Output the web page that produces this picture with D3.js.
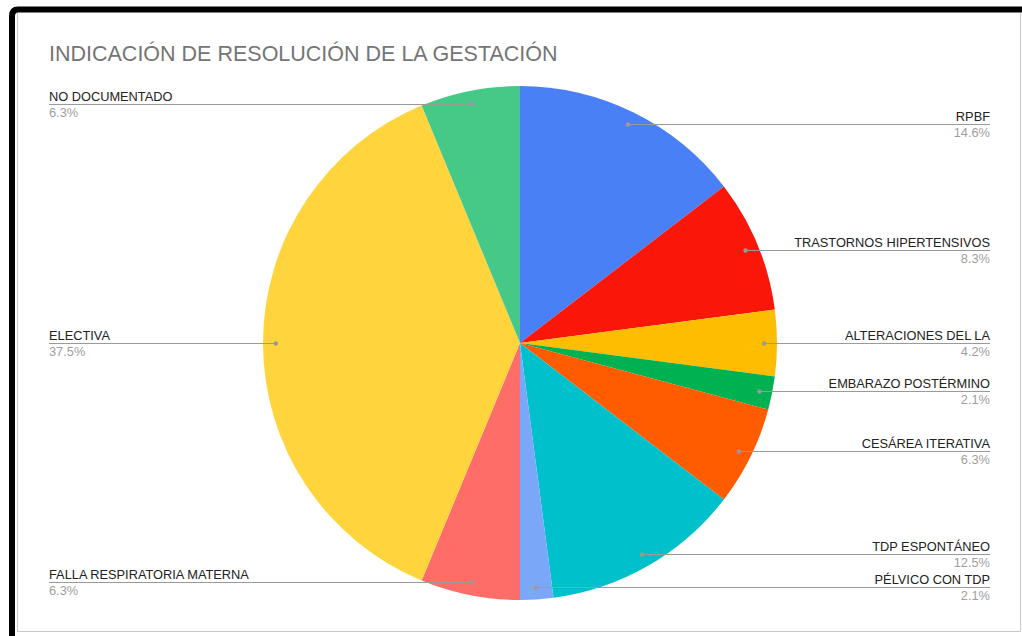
<!DOCTYPE html>
<html>
<head>
<meta charset="utf-8">
<script src="https://cdn.jsdelivr.net/npm/d3@7"></script>
<style>
  body { margin: 0; background: #fff; }
  svg { display: block; font-family: "Liberation Sans", Arial, sans-serif; }
</style>
</head>
<body>
<div id="chart"></div>
<script>
// data (counts out of 48)
var categories = ["RPBF", "TRASTORNOS HIPERTENSIVOS", "ALTERACIONES DEL LA", "EMBARAZO POSTÉRMINO",
                  "CESÁREA ITERATIVA", "TDP ESPONTÁNEO", "PÉLVICO CON TDP", "FALLA RESPIRATORIA MATERNA",
                  "ELECTIVA", "NO DOCUMENTADO"];
var counts = [7, 4, 2, 1, 3, 6, 1, 3, 18, 3];
var colors = ["#4a80f5", "#fa1609", "#ffbd00", "#00b152", "#ff5c00",
              "#00c1cb", "#7ba7f8", "#ff6d69", "#ffd43d", "#46c987"];

var width = 1022, height = 636;
var cx = 520, cy = 343, radius = 257;

var svg = d3.select("#chart").append("svg")
    .attr("width", width).attr("height", height);

// frame
svg.append("rect").attr("x", 0).attr("y", 0).attr("width", width).attr("height", height).attr("fill", "#fff");
svg.append("path")
    .attr("d", "M12,636 L12,16 Q12,9.5 18,9.5 L1022,9.5")
    .attr("fill", "none").attr("stroke", "#000").attr("stroke-width", 6);
svg.append("path")
    .attr("d", "M17.5,13 L17.5,631.5 L1020.5,631.5 L1020.5,13")
    .attr("fill", "none").attr("stroke", "#c8c8c8").attr("stroke-width", 1);

// title
svg.append("text")
    .attr("x", 49).attr("y", 61)
    .attr("font-size", 21.5)
    .attr("fill", "#757575")
    .text("INDICACIÓN DE RESOLUCIÓN DE LA GESTACIÓN");

var total = d3.sum(counts);
var pie = d3.pie().sort(null).value(function(d) { return d; });
var arcs = pie(counts);

var arc = d3.arc().innerRadius(0).outerRadius(radius);

var g = svg.append("g").attr("transform", "translate(" + cx + "," + cy + ")");

g.selectAll("path.slice")
    .data(arcs)
  .enter().append("path")
    .attr("class", "slice")
    .attr("d", arc)
    .attr("fill", function(d, i) { return colors[i]; });

// labels
var dotR = radius * 0.95;
var leftX = 49, rightX = 990;

arcs.forEach(function(d, i) {
  var a = (d.startAngle + d.endAngle) / 2;
  // big slice spanning the horizontal: the label sits at the horizontal
  if (d.endAngle - d.startAngle > Math.PI / 2) {
    [Math.PI / 2, 3 * Math.PI / 2].forEach(function(h) {
      if (h > d.startAngle && h < d.endAngle) a = h;
    });
  }
  var px = cx + dotR * Math.sin(a);
  var py = cy - dotR * Math.cos(a);
  var right = px >= cx;
  var ex = right ? rightX : leftX;
  py = Math.round(py) + 0.5;

  svg.append("line")
      .attr("x1", px).attr("y1", py).attr("x2", ex).attr("y2", py)
      .attr("stroke", "#9a9a9a").attr("stroke-width", 1);
  svg.append("circle")
      .attr("cx", px).attr("cy", py).attr("r", 2.2)
      .attr("fill", "#9a9a9a");
  svg.append("text")
      .attr("x", ex).attr("y", py - 4)
      .attr("text-anchor", right ? "end" : "start")
      .attr("font-size", 12.8).attr("fill", "#222")
      .text(categories[i]);
  svg.append("text")
      .attr("x", ex).attr("y", py + 12)
      .attr("text-anchor", right ? "end" : "start")
      .attr("font-size", 12.8).attr("fill", "#9e9e9e")
      .text(d3.format(".1f")(counts[i] / total * 100) + "%");
});
</script>
</body>
</html>
